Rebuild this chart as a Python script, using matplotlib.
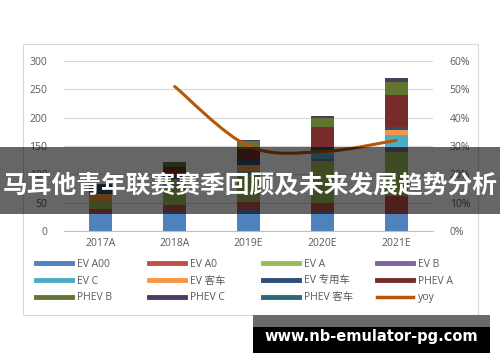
import matplotlib
matplotlib.use("Agg")
import matplotlib.pyplot as plt
from matplotlib.lines import Line2D
from matplotlib.patches import Rectangle, PathPatch
from matplotlib.path import Path
import numpy as np

plt.rcParams['font.family'] = ['Open Sans', 'Noto Sans CJK SC', 'DejaVu Sans']

# data (10k units)
categories = ['2017A', '2018A', '2019E', '2020E', '2021E']
ev_a00 = [32, 34, 37, 33, 30]
ev_a0 = [6, 12, 14, 16, 32]
ev_a = [15, 32, 50, 74, 78]
ev_b = [0, 2, 2, 4, 7]
ev_c = [0, 3, 3, 9, 23]
ev_bus = [12, 9, 10, 4, 9]
ev_special = [14, 6, 9, 8, 5]
phev_a = [3, 15, 20, 36, 56]
phev_b = [0, 8, 14, 16, 23]
phev_c = [0, 1, 2, 3, 7]
phev_bus = [1, 0, 0, 0, 0]
yoy_years = ['2018A', '2019E', '2020E', '2021E']
yoy = [51, 30, 28, 32]   # percent

series = [
    ('EV A00', ev_a00, '#4f81bd'),
    ('EV A0', ev_a0, '#c0504d'),
    ('EV A', ev_a, '#9bbb59'),
    ('EV B', ev_b, '#8064a2'),
    ('EV C', ev_c, '#4bacc6'),
    ('EV 客车', ev_bus, '#f79646'),
    ('EV 专用车', ev_special, '#2c4d75'),
    ('PHEV A', phev_a, '#772c2a'),
    ('PHEV B', phev_b, '#5f7530'),
    ('PHEV C', phev_c, '#4d3b62'),
    ('PHEV 客车', phev_bus, '#276a7c'),
]
yoy_color = '#b65708'
txt_color = '#595959'

W, H = 500, 362
def fx(px): return px / W
def fy(py): return 1 - py / H

fig = plt.figure(figsize=(5, 3.62), dpi=100)

# chart area border
fig.add_artist(Rectangle((fx(23), fy(315)), fx(478) - fx(23), fy(44) - fy(315),
                         transform=fig.transFigure, fill=False, edgecolor='#d9d9d9', lw=0.8, zorder=0))

ax = fig.add_axes([fx(64), fy(231), fx(433) - fx(64), fy(61) - fy(231)])
x = np.arange(len(categories))
bottom = np.zeros(len(categories))
for name, vals, col in series:
    ax.bar(x, vals, width=0.31, bottom=bottom, color=col, zorder=2)
    bottom += np.array(vals)

ax.set_xlim(-0.5, len(categories) - 0.5)
ax.set_ylim(0, 300)
ax.set_yticks(range(0, 301, 50))
ax.set_xticks(x)
ax.set_xticklabels(categories)
ax.grid(axis='y', color='#d9d9d9', lw=0.8, zorder=0)
ax.set_axisbelow(True)
for s in ['top', 'right', 'left']:
    ax.spines[s].set_visible(False)
ax.spines['bottom'].set_color('#bfbfbf')
ax.tick_params(axis='both', length=0, colors=txt_color, labelsize=7.5)
ax.tick_params(axis='y', pad=12)
ax.tick_params(axis='x', pad=5)

ax2 = ax.twinx()
ax2.set_ylim(0, 60)
ax2.set_yticks(range(0, 61, 10))
ax2.set_yticklabels([f'{v}%' for v in range(0, 61, 10)])
ax2.tick_params(axis='y', length=0, colors=txt_color, labelsize=7.5, pad=12)
for s in ax2.spines.values():
    s.set_visible(False)

# smoothed yoy line (bezier through the points, like Excel's smooth line)
yx = [categories.index(c) for c in yoy_years]
pts = list(zip(yx, yoy))
verts = [pts[0]]
codes = [Path.MOVETO]
for i in range(len(pts) - 1):
    p0 = pts[i - 1] if i > 0 else pts[i]
    p1, p2 = pts[i], pts[i + 1]
    p3 = pts[i + 2] if i + 2 < len(pts) else p2
    c1 = (p1[0] + (p2[0] - p0[0]) / 6, p1[1] + (p2[1] - p0[1]) / 6)
    c2 = (p2[0] - (p3[0] - p1[0]) / 6, p2[1] - (p3[1] - p1[1]) / 6)
    verts += [c1, c2, p2]
    codes += [Path.CURVE4] * 3
ax2.add_patch(PathPatch(Path(verts, codes), fill=False, edgecolor=yoy_color, lw=2.2,
                        capstyle='round', zorder=3))

# legend, 4 columns filled row by row
handles = [Line2D([], [], color=c, lw=3.5) for _, _, c in series]
handles.append(Line2D([], [], color=yoy_color, lw=2.5))
labels = [n for n, _, _ in series] + ['yoy']
col_x = [36, 149, 263, 377]
for j, cx in enumerate(col_x):
    idx = [j, j + 4, j + 8]
    leg = fig.legend([handles[i] for i in idx], [labels[i] for i in idx],
                     loc='upper left', bbox_to_anchor=(fx(cx), fy(259)),
                     bbox_transform=fig.transFigure, frameon=False,
                     borderpad=0, borderaxespad=0, handlelength=3.5, handletextpad=0.4,
                     labelspacing=0.55, prop={'size': 7.5})
    for t in leg.get_texts():
        t.set_color(txt_color)

# title banner over the chart
fig.add_artist(Rectangle((0, fy(214)), 1, fy(147) - fy(214), transform=fig.transFigure,
                         facecolor='black', alpha=0.6, edgecolor='none', zorder=6))
fig.text(0.5, fy(185), '马耳他青年联赛赛季回顾及未来发展趋势分析', ha='center', va='center',
         color='white', fontsize=17.8, fontweight='bold', family=['Noto Sans CJK SC', 'DejaVu Sans'],
         zorder=7)

# watermark box
fig.add_artist(Rectangle((fx(253), fy(327)), fx(490) - fx(253), fy(315) - fy(327),
                         transform=fig.transFigure, facecolor='#6a6a6a', edgecolor='none', zorder=6))
fig.add_artist(Rectangle((fx(253), fy(353)), fx(490) - fx(253), fy(327) - fy(353),
                         transform=fig.transFigure, facecolor='black', edgecolor='none', zorder=6))
fig.text(fx(371), fy(337), 'www.nb-emulator-pg.com', ha='center', va='center', color='white',
         fontsize=10.5, fontweight='bold', family='DejaVu Sans', zorder=7)

fig.savefig('out.png', dpi=100)
